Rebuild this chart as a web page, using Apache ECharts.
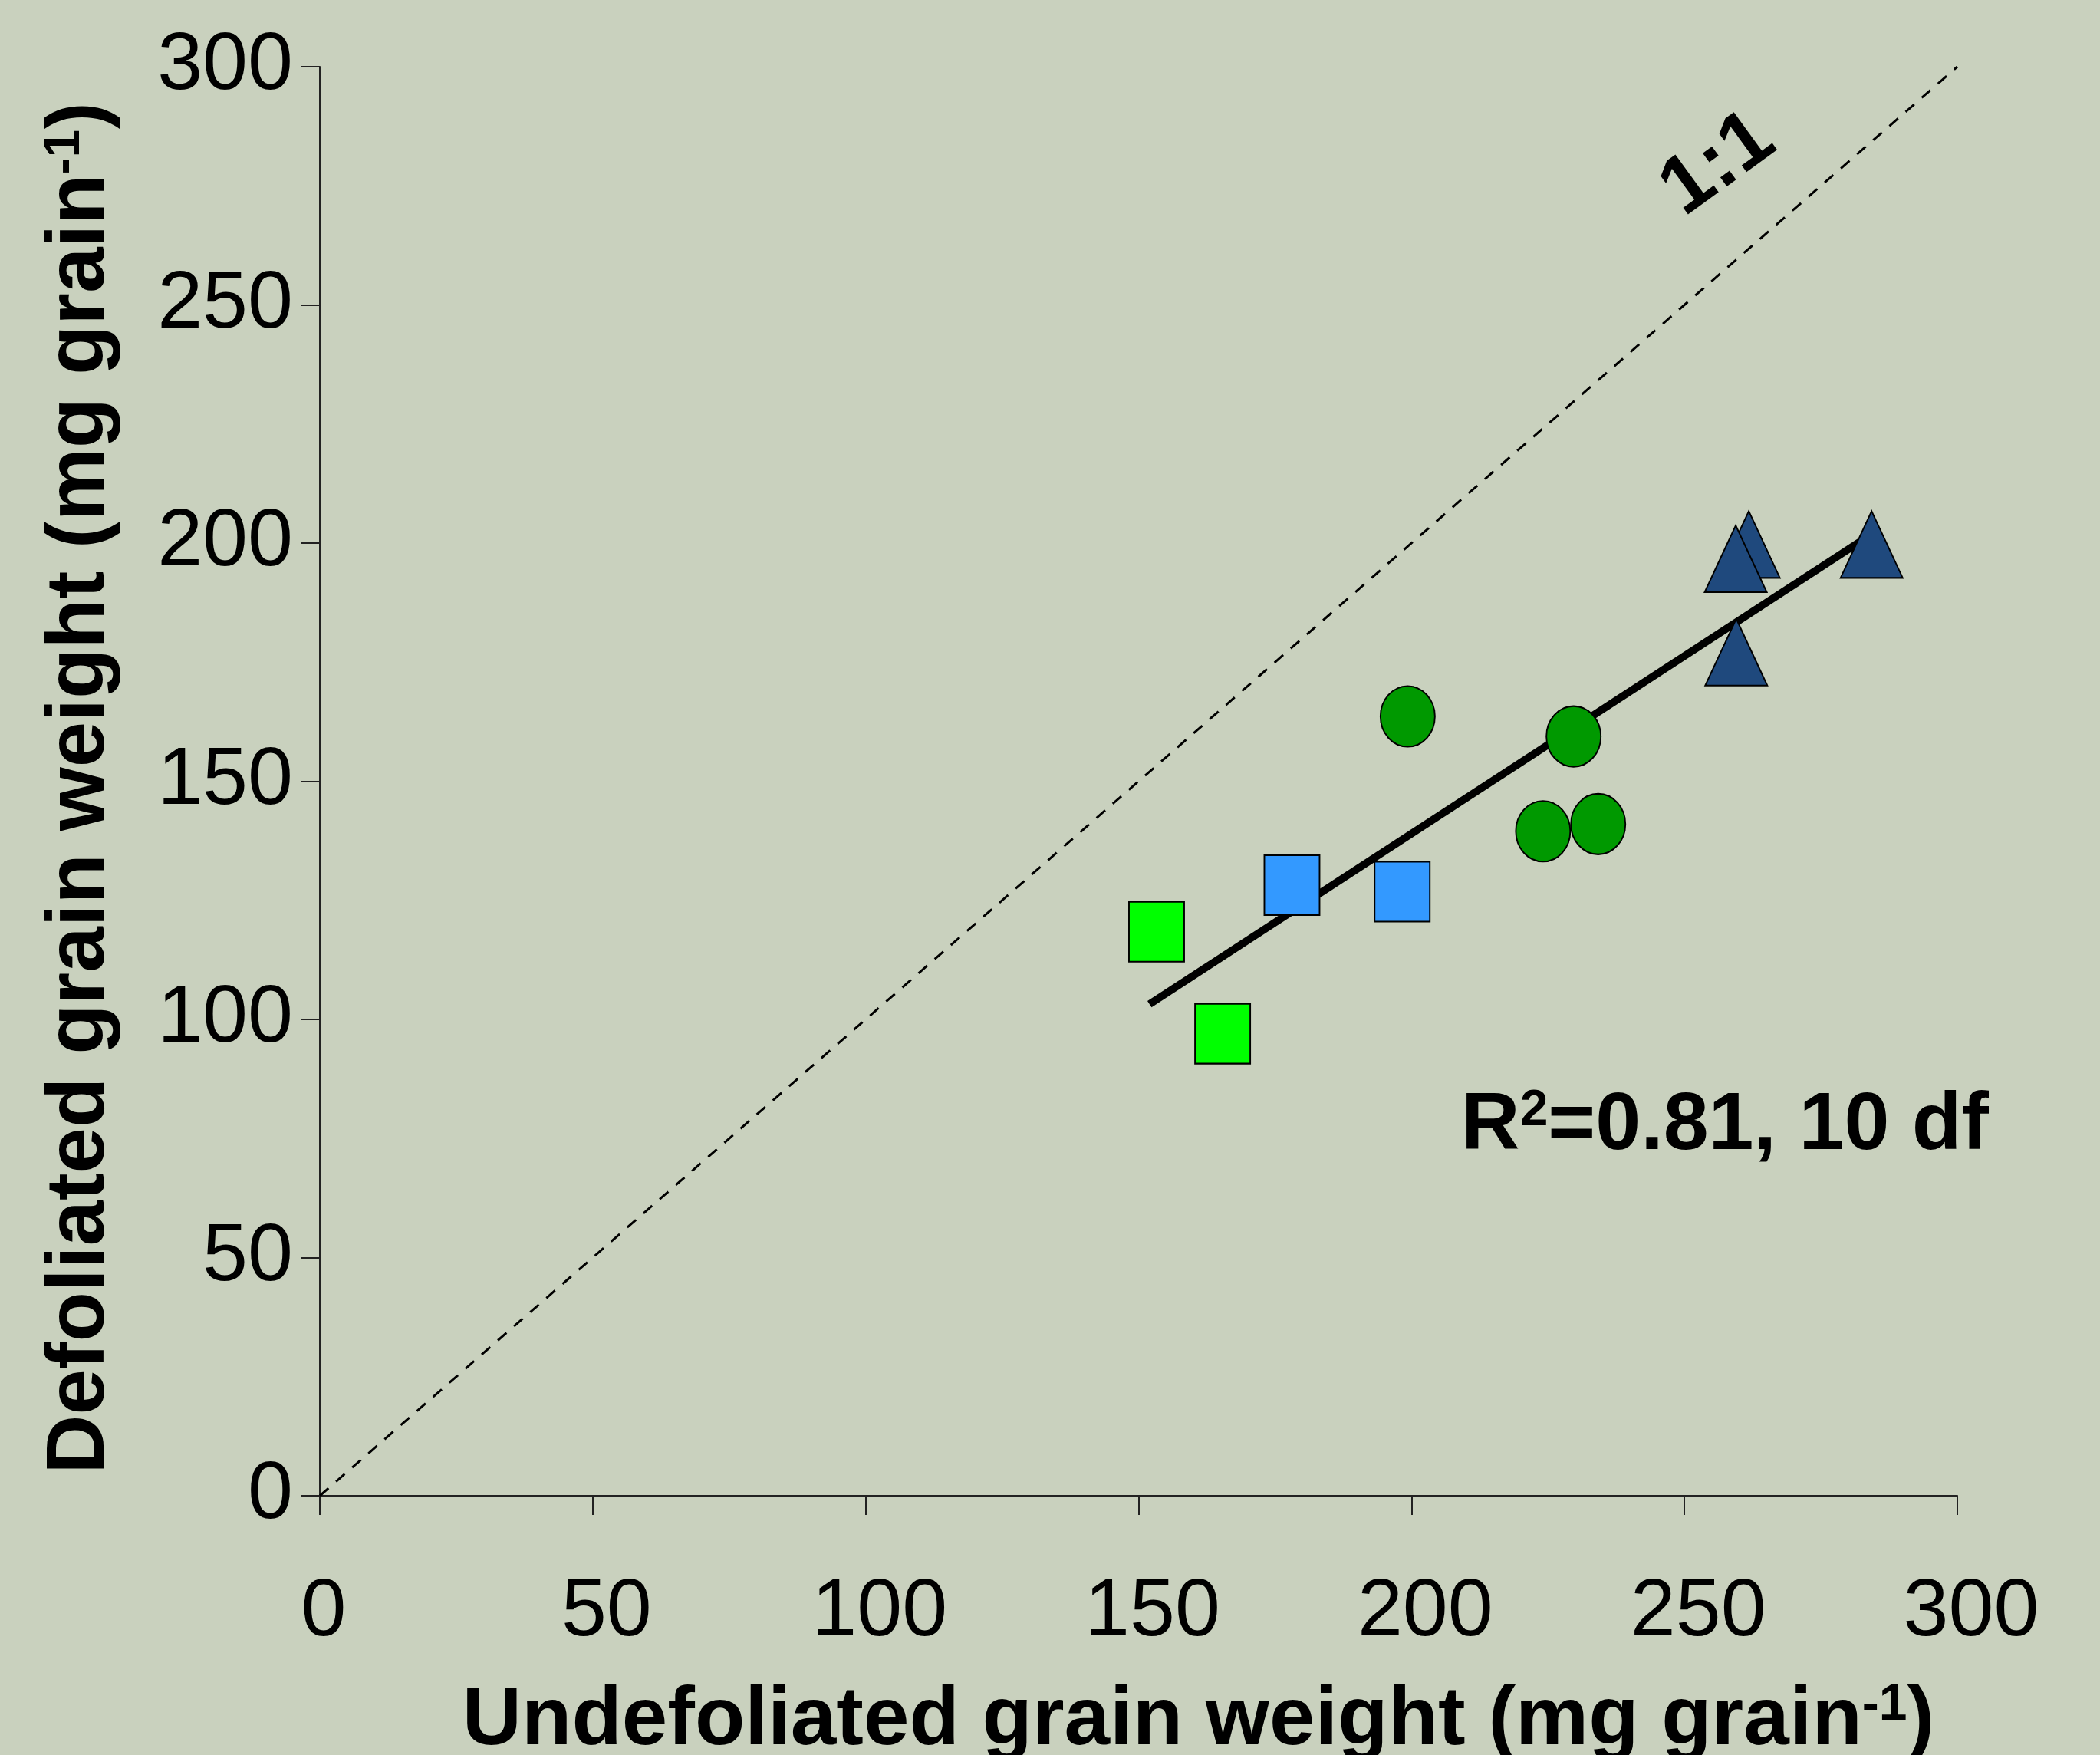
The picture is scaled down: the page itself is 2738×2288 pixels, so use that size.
<!DOCTYPE html>
<html style="height: 100%">
<head>
    <meta charset="utf-8">
    <script src="https://cdn.jsdelivr.net/npm/echarts@6/dist/echarts.min.js"></script>
    <style>
        html, body { margin: 0; height: 100%; }
        #chart { width: 2738px; height: 2288px; }
    </style>
</head>
<body>
<div id="chart"></div>
<script type="text/javascript">
// values (mg grain-1)
var limeSquares = [[153.3, 118.4], [165.4, 97.0]];
var blueSquares = [[178.1, 128.2], [198.3, 126.8]];
var greenCircles = [[199.3, 163.6], [229.7, 159.4], [224.1, 139.5], [234.2, 141.0]];
var navyTriangles = [[261.8, 199.7], [259.4, 196.7], [259.5, 177.1], [284.3, 199.7]];
var oneToOneLine = [[0, 0], [300, 300]];
var fitLine = [[152, 103.2], [283, 200.9]];
// text annotations, placed in data units
var r2Label = [209.1, 77.5];
var ratioLabel = [256.2, 279.4];
var axisMin = 0, axisMax = 300, axisStep = 50;

var font = 'Liberation Sans, Arial, sans-serif';
var myChart = echarts.init(document.getElementById('chart'));

function markerSeries(data, symbol, size, color) {
    return {
        type: 'scatter',
        data: data,
        symbol: symbol,
        symbolSize: size,
        z: 5,
        itemStyle: { color: color, borderColor: '#000', borderWidth: 2, opacity: 1 }
    };
}

var supStyle = { color: '#000', fontFamily: font, fontSize: 66, fontWeight: 'bold', verticalAlign: 'top' };

var axisCommon = {
    type: 'value',
    min: axisMin,
    max: axisMax,
    interval: axisStep,
    splitLine: { show: false },
    axisLine: { show: true, lineStyle: { color: '#222', width: 2 } },
    axisTick: { show: true, inside: false, length: 25, lineStyle: { color: '#222', width: 2 } },
    nameLocation: 'middle'
};

var option = {
    backgroundColor: '#c9d1be',
    animation: false,
    // the x title runs off the bottom edge in the original, so no auto fitting
    grid: { left: 417, right: 186, top: 87, bottom: 338, containLabel: false, outerBoundsMode: 'none' },
    xAxis: Object.assign({}, axisCommon, {
        name: 'Undefoliated grain weight (mg grain{sup|-1})',
        nameGap: 241,
        nameTextStyle: {
            color: '#000', fontFamily: font, fontSize: 107, fontWeight: 'bold',
            padding: [0, 0, 0, 156],
            rich: { sup: supStyle }
        },
        axisLabel: {
            color: '#000', fontFamily: font, fontSize: 106, margin: 100,
            // labels sit a little right of their ticks in the original
            formatter: function (v) {
                return v === 0 ? '{z|0}' : '{n|' + v + '}';
            },
            rich: {
                z: { color: '#000', fontFamily: font, fontSize: 106, padding: [0, 0, 0, 10] },
                n: { color: '#000', fontFamily: font, fontSize: 106, padding: [0, 0, 0, 36] }
            }
        }
    }),
    yAxis: Object.assign({}, axisCommon, {
        name: 'Defoliated grain weight (mg grain{sup|-1})',
        nameGap: 258,
        nameTextStyle: {
            color: '#000', fontFamily: font, fontSize: 107, fontWeight: 'bold',
            padding: [0, 18, 0, 0],
            rich: { sup: supStyle }
        },
        axisLabel: { color: '#000', fontFamily: font, fontSize: 106, margin: 35 }
    }),
    series: [
        {
            type: 'line',
            data: oneToOneLine,
            symbol: 'none',
            z: 1,
            lineStyle: { color: '#000', width: 3, type: [15, 13] }
        },
        {
            type: 'line',
            data: fitLine,
            symbol: 'none',
            z: 1,
            lineStyle: { color: '#000', width: 10 }
        },
        markerSeries(limeSquares, 'rect', [72, 78], '#00ff00'),
        markerSeries(blueSquares, 'rect', [72, 78], '#3399ff'),
        markerSeries(greenCircles, 'circle', [71, 79], '#009900'),
        markerSeries(navyTriangles, 'triangle', [81, 87], '#1f497d'),
        {
            type: 'scatter',
            data: [r2Label],
            symbolSize: 0,
            z: 6,
            itemStyle: { opacity: 1 },
            label: {
                show: true,
                position: 'inside',
                align: 'left',
                verticalAlign: 'middle',
                formatter: 'R{sup|2}{b|=0.81, 10 df}',
                rich: {
                    b: { color: '#000', fontFamily: font, fontSize: 106, fontWeight: 'bold' },
                    sup: supStyle
                },
                color: '#000', fontFamily: font, fontSize: 106, fontWeight: 'bold'
            }
        },
        {
            type: 'scatter',
            data: [ratioLabel],
            symbolSize: 0,
            z: 6,
            itemStyle: { opacity: 1 },
            label: {
                show: true,
                position: 'inside',
                rotate: 36,
                formatter: '1:1',
                color: '#000', fontFamily: font, fontSize: 106, fontWeight: 'bold'
            }
        }
    ]
};
myChart.setOption(option);
</script>
</body>
</html>
